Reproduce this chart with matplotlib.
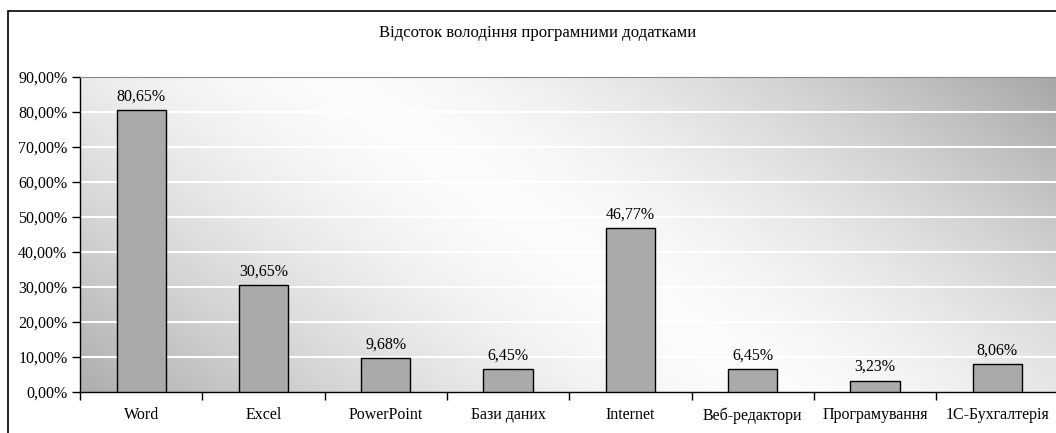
import numpy as np
import matplotlib
matplotlib.use("Agg")
import matplotlib.pyplot as plt
from matplotlib.patches import Rectangle

categories = ["Word", "Excel", "PowerPoint", "Бази даних", "Internet",
              "Веб-редактори", "Програмування", "1С-Бухгалтерія"]
values = [80.65, 30.65, 9.68, 6.45, 46.77, 6.45, 3.23, 8.06]
title = "Відсоток володіння програмними додатками"

plt.rcParams['font.family'] = ['Liberation Serif', 'DejaVu Serif']

W, H = 1056, 433
fig = plt.figure(figsize=(W / 100, H / 100), dpi=100)
fig.patch.set_facecolor('white')

# outer border
fig.patches.append(Rectangle((8 / W, -0.1), 1.2, 1 - 11 / H + 0.1, transform=fig.transFigure,
                             fill=False, edgecolor='black', linewidth=1.2))

ax_l, ax_r, ax_b, ax_t = 80, 1058.6, 392, 77
ax = fig.add_axes([ax_l / W, 1 - ax_b / H, (ax_r - ax_l) / W, (ax_b - ax_t) / H])

# gradient background (broad diagonal white band)
pw, ph = int(ax_r - ax_l), int(ax_b - ax_t)
xx, yy = np.meshgrid(np.arange(pw), np.arange(ph))
p0 = np.array([250.0, 0.0])
d = np.array([440.0, 314.0]); d /= np.linalg.norm(d)
n = np.array([d[1], -d[0]])
dist = np.abs((xx - p0[0]) * n[0] + (yy - p0[1]) * n[1])
g = np.clip(252 - 82 * (dist / 410) ** 1.5, 165, 252) / 255
img = np.dstack([g, g, g])
ax.imshow(img, extent=[-0.5, len(categories) - 0.5, 0, 90], aspect='auto',
          zorder=0, interpolation='bilinear')

x = np.arange(len(categories))
ax.bar(x, values, width=0.403, color='#aaaaaa', edgecolor='black', linewidth=1, zorder=3)
for xi, v in zip(x, values):
    ax.annotate(f"{v:.2f}%".replace('.', ','), (xi, v), xytext=(0, 4),
                textcoords='offset points', ha='center', va='bottom', fontsize=11.5, zorder=4)

ax.set_xlim(-0.5, len(categories) - 0.5)
ax.set_ylim(0, 90)
ax.set_yticks(np.arange(0, 91, 10))
ax.set_yticklabels([f"{v:.2f}%".replace('.', ',') for v in np.arange(0, 91, 10)], fontsize=11.5)
for yv in np.arange(10, 90, 10):
    ax.axhline(yv, color='white', linewidth=1.5, zorder=1)

ax.set_xticks(x)
ax.set_xticklabels(categories, fontsize=11.5)
ax.tick_params(axis='x', length=0, pad=11)
ax.set_xticks(np.arange(-0.5, len(categories), 1), minor=True)
ax.tick_params(axis='x', which='minor', length=6, direction='out', width=1)
ax.tick_params(axis='y', length=6, direction='out', width=1, pad=3)

ax.spines['right'].set_visible(False)
ax.spines['top'].set_color('#888888')
ax.spines['left'].set_linewidth(1)
ax.spines['bottom'].set_linewidth(1)

fig.text(538 / W, 1 - 33 / H, title, ha='center', va='center', fontsize=12)

fig.savefig("out.png", dpi=100)
